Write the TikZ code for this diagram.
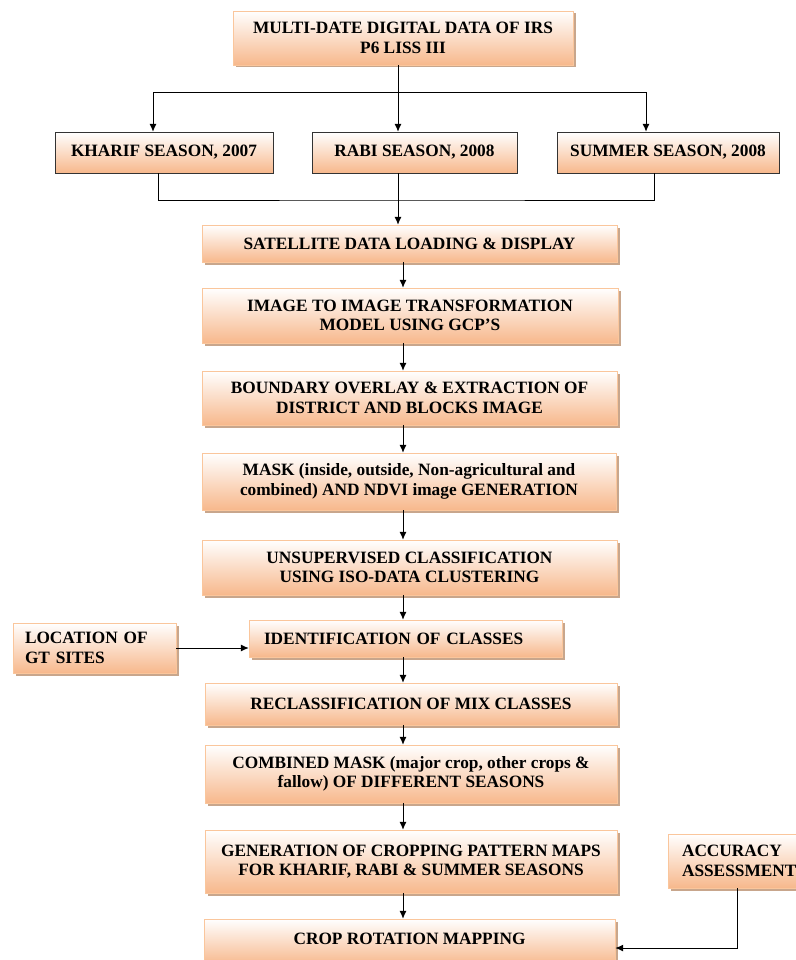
\documentclass[tikz,border=0pt]{standalone}
\usepackage{fontspec}
\setmainfont{Liberation Serif}
\usepackage{tikz}
\usetikzlibrary{shapes,arrows,arrows.meta,positioning,shadows}
\definecolor{peach}{RGB}{247,184,140}
\definecolor{peachline}{RGB}{250,198,156}
\definecolor{shade}{RGB}{200,166,140}

\begin{document}
\begin{tikzpicture}[x=1pt, y=-1pt, font=\bfseries\fontsize{17.3}{19.5}\selectfont]
    % Define block styles
    \tikzstyle{block} = [rectangle, draw=peachline, top color=white, bottom color=peach, align=center, inner sep=2pt, drop shadow={shadow xshift=2.5pt, shadow yshift=-2.5pt, fill=shade, opacity=1}]
    \tikzstyle{season} = [rectangle, draw=black!80, top color=white, bottom color=peach, align=center, inner sep=2pt]
    \tikzstyle{line} = [draw, line width=1pt, -{Latex[length=8pt, width=7pt]}]

    \useasboundingbox (0,0) rectangle (795,960);

    % Nodes
    \node [block, minimum width=340pt, minimum height=54pt] (Irs_Data) at (403,38) {MULTI-DATE DIGITAL DATA OF IRS\\P6 LISS III};
    \node [season, minimum width=218pt, minimum height=41pt] (Kharif) at (164,152.5) {KHARIF SEASON, 2007};
    \node [season, minimum width=205pt, minimum height=41pt] (Rabi) at (414.5,152.5) {RABI SEASON, 2008};
    \node [season, minimum width=222pt, minimum height=41pt] (Summer) at (668,152.5) {SUMMER SEASON, 2008};
    \node [block, minimum width=415pt, minimum height=37pt] (Data_Loading) at (409.5,243.5) {SATELLITE DATA LOADING \& DISPLAY};
    \node [block, minimum width=416pt, minimum height=55pt] (Transformation) at (410,315.5) {IMAGE TO IMAGE TRANSFORMATION\\MODEL USING GCP'S};
    \node [block, minimum width=415pt, minimum height=54pt] (Boundary) at (409.5,398) {BOUNDARY OVERLAY \& EXTRACTION OF\\DISTRICT AND BLOCKS IMAGE};
    \node [block, minimum width=414pt, minimum height=57pt] (Mask) at (409,481.5) {MASK (inside, outside, Non-agricultural and\\combined) AND NDVI image GENERATION};
    \node [block, minimum width=415pt, minimum height=55pt] (Unsupervised) at (409.5,567.5) {UNSUPERVISED CLASSIFICATION\\USING ISO-DATA CLUSTERING};
    \node [block, text width=283pt, inner xsep=15pt, align=left, minimum height=37pt] (Identification) at (405.5,638.5) {IDENTIFICATION OF CLASSES};
    \node [block, text width=139pt, inner xsep=12pt, align=left, minimum height=50pt] (Gt_Sites) at (94.5,648) {LOCATION OF\\GT SITES};
    \node [block, minimum width=412pt, minimum height=42pt] (Reclassification) at (411,704) {RECLASSIFICATION OF MIX CLASSES};
    \node [block, minimum width=412pt, minimum height=58pt] (Combined_Mask) at (411,774) {COMBINED MASK (major crop, other crops \&\\fallow) OF DIFFERENT SEASONS};
    \node [block, minimum width=412pt, minimum height=63pt] (Pattern_Maps) at (411,861.5) {GENERATION OF CROPPING PATTERN MAPS\\FOR KHARIF, RABI \& SUMMER SEASONS};
    \node [block, text width=118pt, inner xsep=14pt, align=left, minimum height=54pt] (Accuracy) at (741,861) {ACCURACY\\ASSESSMENT};
    \node [block, minimum width=411pt, minimum height=46pt] (Crop_Rotation) at (409.5,942) {\raisebox{6pt}{CROP ROTATION MAPPING}};

    \coordinate (trunk) at (398,0);
    \coordinate (spine) at (403,0);
    \coordinate (split) at (398,93);
    \coordinate (join) at (398,200);

    % Arrows
    \path [line] (Irs_Data.south -| trunk) -- (Rabi.north -| trunk);
    \path [line] (split) -| ([xshift=-11pt]Kharif.north);
    \path [line] (split) -| ([xshift=-22pt]Summer.north);
    \draw [line width=1pt] ([xshift=-6pt]Kharif.south) |- (join) -| ([xshift=-14pt]Summer.south);
    \path [line] (Rabi.south -| trunk) -- (Data_Loading.north -| trunk);
    \path [line] (Data_Loading.south -| spine) -- (Transformation.north -| spine);
    \path [line] (Transformation.south -| spine) -- (Boundary.north -| spine);
    \path [line] (Boundary.south -| spine) -- (Mask.north -| spine);
    \path [line] (Mask.south -| spine) -- (Unsupervised.north -| spine);
    \path [line] (Unsupervised.south -| spine) -- (Identification.north -| spine);
    \path [line] (Gt_Sites.east) -- (Gt_Sites.east -| Identification.west);
    \path [line] (Identification.south -| spine) -- (Reclassification.north -| spine);
    \path [line] (Reclassification.south -| spine) -- (Combined_Mask.north -| spine);
    \path [line] (Combined_Mask.south -| spine) -- (Pattern_Maps.north -| spine);
    \path [line] (Pattern_Maps.south -| spine) -- (Crop_Rotation.north -| spine);
    \path [line] ([xshift=-4pt]Accuracy.south) |- ([yshift=-6pt]Crop_Rotation.east);

  \end{tikzpicture}
\end{document}
